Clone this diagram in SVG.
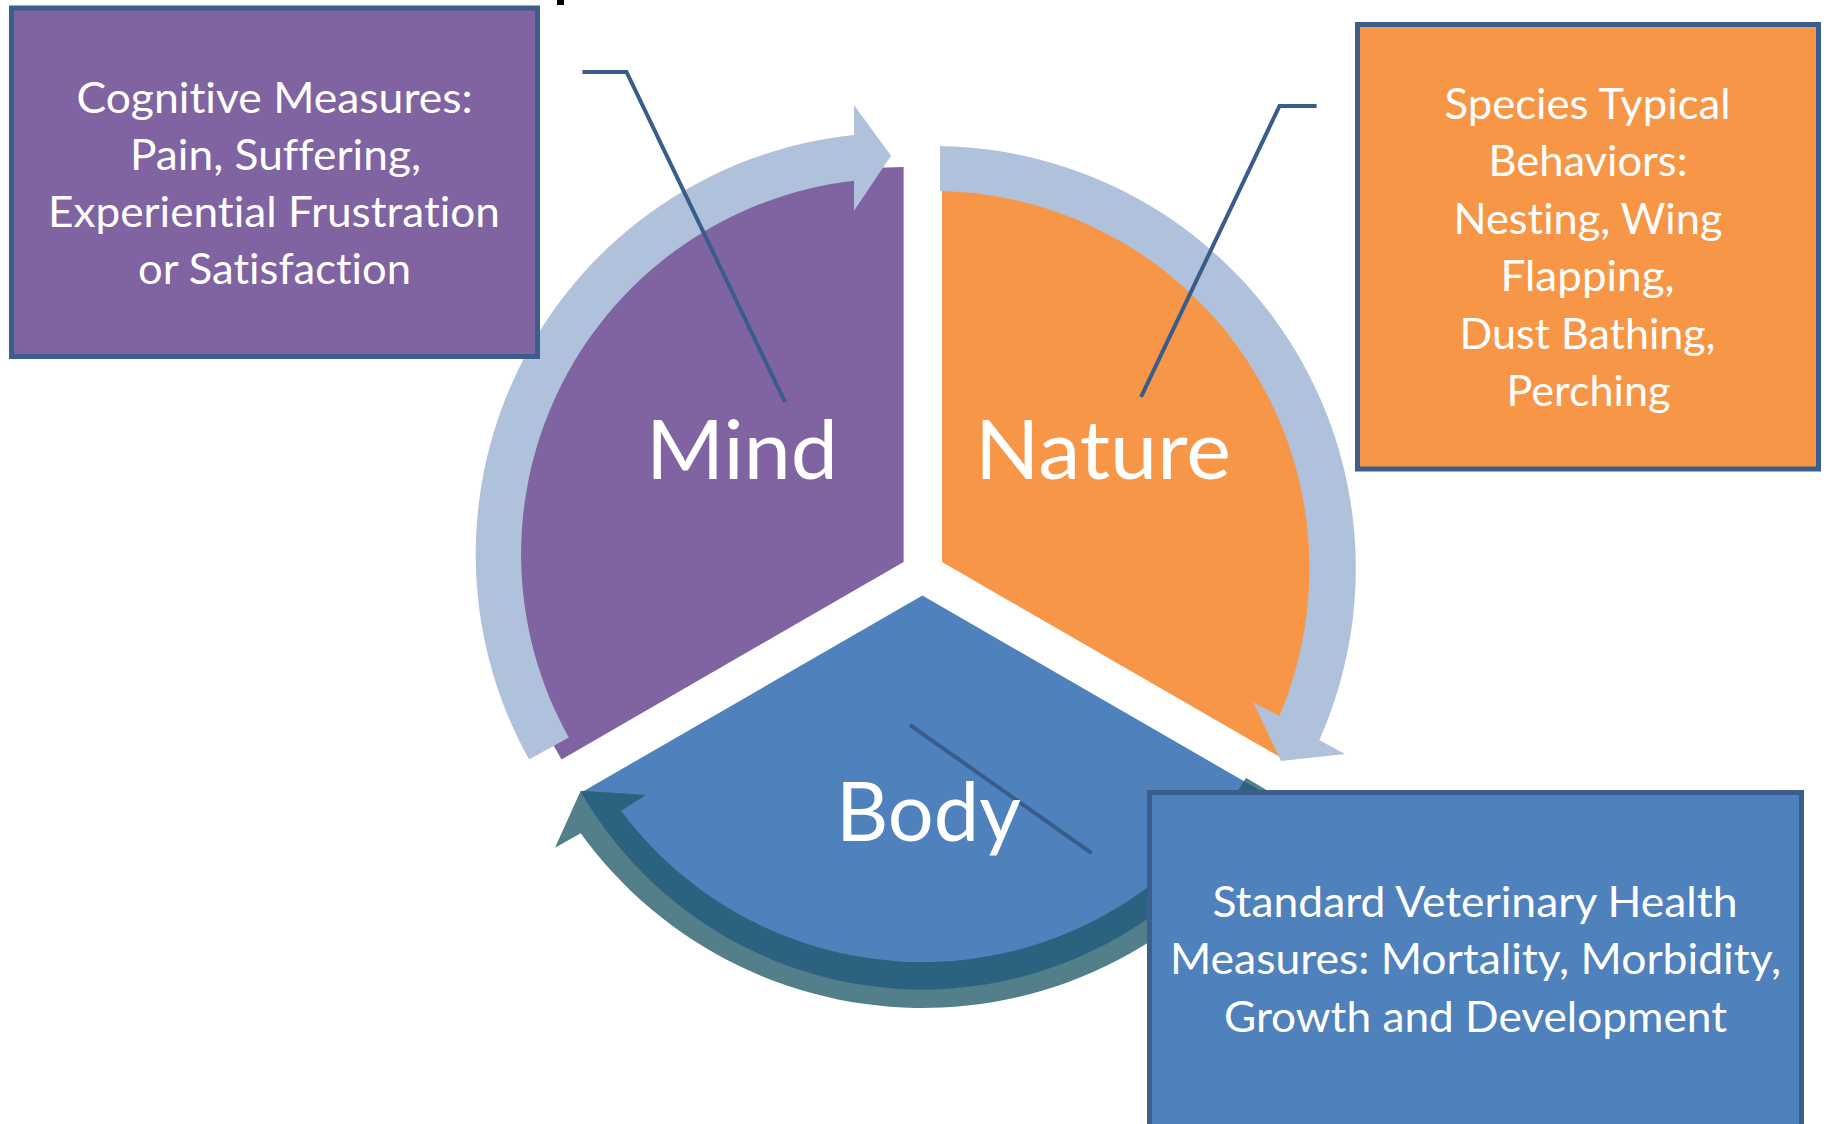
<svg xmlns="http://www.w3.org/2000/svg" width="1826" height="1124" viewBox="0 0 1826 1124">
<style>
.box{stroke:#3B5E8C;stroke-width:5}
.t{font-family:Lato,'Open Sans','DejaVu Sans',sans-serif;fill:#ffffff;text-anchor:middle;font-variant-ligatures:none}
.bt{font-size:42px}
.big{font-size:81px}
.lead{fill:none;stroke:#385D8A;stroke-width:4;stroke-linejoin:miter}
.arr{fill:#B0C1DC}
</style>
<defs>
<clipPath id="bodyClip"><path d="M 922.4 595.5 L 1263.6 792.5 A 394 394 0 0 1 581.2 792.5 Z"/></clipPath>
<path id="bodyArrow" d="M 1285.6 801.2 A 422 422 0 0 1 580.7 833.3 L 555 847.7 L 580.7 790.7 L 646 795 L 621 810.7 A 376 376 0 0 0 1246 777.8 Z"/>
</defs>
<rect x="0" y="0" width="1826" height="1124" fill="#ffffff"/>
<rect x="557" y="0" width="7" height="5" fill="#000000"/>

<g id="mind">
<path d="M 903.6 562 L 561.5 759.5 A 395 395 0 0 1 903.6 167 Z" fill="#8064A2"/>
<path class="arr" d="M 529.1 759.6 A 421.5 421.5 0 0 1 854 135 L 854 105 L 891 155.7 L 854 210.7 L 854 180.7 A 376 376 0 0 0 568.8 737.5 Z"/>
</g>
<g id="nature">
<path d="M 942 562 L 942 167 A 395 395 0 0 1 1284.1 759.5 Z" fill="#F79646"/>
<path class="arr" d="M 940 146 A 422.3 422.3 0 0 1 1319.3 740 L 1345 754 L 1281 761 L 1253.3 702.3 L 1279.3 716 A 377.3 377.3 0 0 0 940 191 Z"/>
</g>
<g id="body">
<path d="M 922.4 595.5 L 1263.6 792.5 A 394 394 0 0 1 581.2 792.5 Z" fill="#4F81BD"/>
<use href="#bodyArrow" fill="#527F8A"/>
<use href="#bodyArrow" fill="#2A6280" clip-path="url(#bodyClip)"/>
</g>

<g id="connectors">
<polyline class="lead" points="582.5,72 626.5,72 785,402"/>
<polyline class="lead" points="1316.6,106 1279.5,106 1141,397"/>
<line class="lead" x1="910" y1="725" x2="1091.5" y2="853"/>
</g>

<g id="labels">
<text id="label-mind" class="t big" x="742" y="478.5" textLength="192" lengthAdjust="spacingAndGlyphs">Mind</text>
<text id="label-nature" class="t big" x="1103" y="478.5" textLength="256" lengthAdjust="spacingAndGlyphs">Nature</text>
<text id="label-body" class="t big" x="928.5" y="841" textLength="185" lengthAdjust="spacingAndGlyphs">Body</text>
</g>

<g id="box-cognitive">
<rect class="box" x="11.5" y="8" width="526" height="348.5" fill="#8064A2"/>
<text class="t bt" x="274.5" y="113" textLength="396" lengthAdjust="spacingAndGlyphs">Cognitive Measures:</text>
<text class="t bt" x="275.5" y="170" textLength="291" lengthAdjust="spacingAndGlyphs">Pain, Suffering,</text>
<text class="t bt" x="274" y="227" textLength="452" lengthAdjust="spacingAndGlyphs">Experiential Frustration</text>
<text class="t bt" x="274.5" y="284" textLength="273" lengthAdjust="spacingAndGlyphs">or Satisfaction</text>
</g>

<g id="box-species">
<rect class="box" x="1357.5" y="24.5" width="461" height="444.5" fill="#F79646"/>
<text class="t bt" x="1587.5" y="118.5" textLength="286" lengthAdjust="spacingAndGlyphs">Species Typical</text>
<text class="t bt" x="1588" y="176" textLength="199" lengthAdjust="spacingAndGlyphs">Behaviors:</text>
<text class="t bt" x="1588" y="233.5" textLength="269" lengthAdjust="spacingAndGlyphs">Nesting, Wing</text>
<text class="t bt" x="1587.5" y="291" textLength="174" lengthAdjust="spacingAndGlyphs">Flapping,</text>
<text class="t bt" x="1587.5" y="348.5" textLength="256" lengthAdjust="spacingAndGlyphs">Dust Bathing,</text>
<text class="t bt" x="1588.5" y="406" textLength="164" lengthAdjust="spacingAndGlyphs">Perching</text>
</g>

<g id="box-veterinary">
<rect class="box" x="1149.5" y="792.5" width="652" height="345" fill="#4F81BD"/>
<text class="t bt" x="1475" y="916.5" textLength="525" lengthAdjust="spacingAndGlyphs">Standard Veterinary Health</text>
<text class="t bt" x="1475.5" y="974" textLength="611" lengthAdjust="spacingAndGlyphs">Measures: Mortality, Morbidity,</text>
<text class="t bt" x="1475.5" y="1031.5" textLength="503" lengthAdjust="spacingAndGlyphs">Growth and Development</text>
</g>
</svg>
